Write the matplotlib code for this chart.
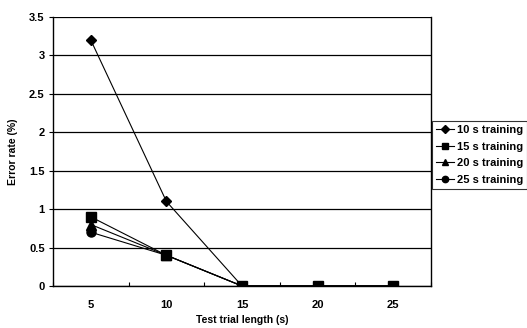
import matplotlib
matplotlib.use('Agg')
import matplotlib.pyplot as plt
import numpy as np

plt.rcParams['font.family'] = ['Liberation Sans', 'DejaVu Sans']
plt.rcParams['font.weight'] = 'bold'

# data
trial_lengths = ['5', '10', '15', '20', '25']
err_10s = [3.2, 1.1, 0, 0, 0]
err_15s = [0.9, 0.4, 0, 0, 0]
err_20s = [0.8, 0.4, 0, 0, 0]
err_25s = [0.7, 0.4, 0, 0, 0]
series_names = ['10 s training', '15 s training', '20 s training', '25 s training']

fig = plt.figure(figsize=(5.27, 3.28), dpi=100)
ax = fig.add_axes([0.1006, 0.128, 0.7174, 0.820])

x = np.arange(len(trial_lengths))
markers = ['D', 's', '^', 'o']
sizes = [5.5, 6.5, 6.5, 6.5]
for vals, name, m, ms in zip([err_10s, err_15s, err_20s, err_25s], series_names, markers, sizes):
    ax.plot(x, vals, color='black', lw=0.8, marker=m, markersize=ms, label=name)

ax.set_xlim(-0.5, len(trial_lengths) - 0.5)
ax.set_ylim(0, 3.5)
ax.set_yticks(np.arange(0, 3.51, 0.5))
ax.set_yticklabels(['0', '0.5', '1', '1.5', '2', '2.5', '3', '3.5'])
ax.yaxis.grid(True, color='black', lw=0.9)
ax.set_axisbelow(True)

ax.set_xticks(x)
ax.set_xticklabels(trial_lengths)
ax.set_xticks(np.arange(-0.5, len(trial_lengths), 1), minor=True)
ax.tick_params(axis='x', which='major', length=0, pad=10, labelsize=8)
ax.tick_params(axis='x', which='minor', length=3, direction='in', width=0.8)
ax.tick_params(axis='y', length=3, width=0.8, labelsize=8, pad=3)

for s in ax.spines.values():
    s.set_linewidth(1.0)
ax.spines['top'].set_visible(False)

ax.set_xlabel('Test trial length (s)', fontsize=7.5, fontweight='bold', labelpad=4)
ax.set_ylabel('Error rate (%)', fontsize=7.5, fontweight='bold', labelpad=8)

leg = fig.legend(loc='upper left', bbox_to_anchor=(0.82, 0.631), fontsize=8,
                 frameon=True, fancybox=False, edgecolor='black', handlelength=1.6,
                 handletextpad=0.3, borderpad=0.35, labelspacing=0.6, borderaxespad=0,
                 markerscale=0.7)
leg.get_frame().set_linewidth(0.8)

fig.savefig('out.png', dpi=100)
